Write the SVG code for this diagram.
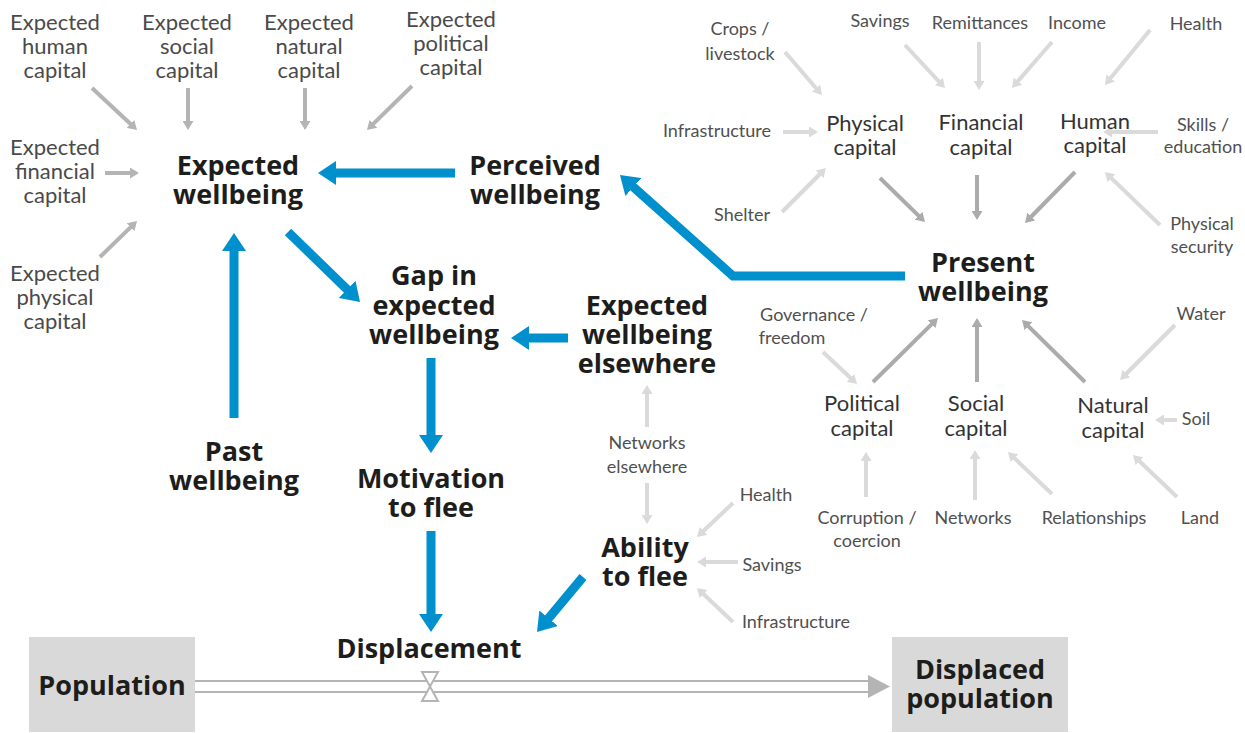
<svg xmlns="http://www.w3.org/2000/svg" width="1245" height="733" viewBox="0 0 1245 733">
<style>
.b{font-family:"Open Sans","Noto Sans",sans-serif;font-weight:bold;font-size:27px;fill:#1d1d1b;text-anchor:middle}
.l{font-family:Lato,"Open Sans",sans-serif;font-size:22px;fill:#4a4a4a;text-anchor:middle}
.r{font-family:Lato,"Open Sans",sans-serif;font-size:18px;fill:#505050;text-anchor:middle}
.c{font-family:Lato,"Open Sans",sans-serif;font-size:22px;fill:#333;text-anchor:middle}
.bl{fill:none;stroke:#0090cd;stroke-width:9;marker-end:url(#hb)}
.g1{fill:none;stroke:#b4b4b4;stroke-width:4;marker-end:url(#h1)}
.g2{fill:none;stroke:#dadada;stroke-width:4;marker-end:url(#h2)}
.g3{fill:none;stroke:#ababab;stroke-width:4;marker-end:url(#h3)}
.box{fill:#d9d9d9}
</style>
<defs>
<marker id="hb" markerUnits="userSpaceOnUse" markerWidth="18" markerHeight="24" refX="4" refY="12" orient="auto"><path d="M0,0 L18,12 L0,24 Z" fill="#0090cd"/></marker>
<marker id="h1" markerUnits="userSpaceOnUse" markerWidth="9" markerHeight="11" refX="2" refY="5.5" orient="auto"><path d="M0,0 L9,5.5 L0,11 Z" fill="#b4b4b4"/></marker>
<marker id="h2" markerUnits="userSpaceOnUse" markerWidth="9" markerHeight="11" refX="2" refY="5.5" orient="auto"><path d="M0,0 L9,5.5 L0,11 Z" fill="#dadada"/></marker>
<marker id="h3" markerUnits="userSpaceOnUse" markerWidth="9" markerHeight="11" refX="2" refY="5.5" orient="auto"><path d="M0,0 L9,5.5 L0,11 Z" fill="#ababab"/></marker>
</defs>

<g id="connectors">
<line class="g1" x1="92" y1="88" x2="131.9" y2="125.2"/>
<line class="g1" x1="188" y1="88" x2="188" y2="123"/>
<line class="g1" x1="305" y1="88" x2="305" y2="123"/>
<line class="g1" x1="412" y1="86" x2="372" y2="125.1"/>
<line class="g1" x1="105" y1="173" x2="132" y2="173"/>
<line class="g1" x1="100" y1="257" x2="132" y2="225.9"/>

<line class="g2" x1="785" y1="52" x2="817.4" y2="89.7"/>
<line class="g2" x1="905" y1="45" x2="940.2" y2="82.9"/>
<line class="g2" x1="979" y1="42" x2="979" y2="83"/>
<line class="g2" x1="1052" y1="42" x2="1016.6" y2="82.7"/>
<line class="g2" x1="1150" y1="30" x2="1109.4" y2="79.6"/>
<line class="g2" x1="783" y1="132" x2="811" y2="132"/>
<line class="g2" x1="782" y1="212" x2="821" y2="173"/>
<line class="g2" x1="1158" y1="132" x2="1110" y2="132"/>
<line class="g2" x1="1160" y1="225" x2="1110" y2="176.9"/>

<line class="g3" x1="880" y1="178" x2="920" y2="217.1"/>
<line class="g3" x1="977" y1="175" x2="977" y2="213"/>
<line class="g3" x1="1075" y1="172" x2="1029.9" y2="218"/>
<line class="g3" x1="873" y1="382" x2="933" y2="322.9"/>
<line class="g3" x1="977" y1="382" x2="977" y2="325"/>
<line class="g3" x1="1085" y1="382" x2="1027" y2="324.9"/>

<line class="g2" x1="823" y1="352" x2="851.9" y2="379.2"/>
<line class="g2" x1="1175" y1="325" x2="1125" y2="375"/>
<line class="g2" x1="1177" y1="420" x2="1162" y2="420"/>
<line class="g2" x1="866" y1="497" x2="866" y2="459"/>
<line class="g2" x1="975" y1="500" x2="975" y2="457"/>
<line class="g2" x1="1052" y1="494" x2="1013" y2="456.8"/>
<line class="g2" x1="1177" y1="497" x2="1138" y2="459.8"/>
<line class="g2" x1="647" y1="427" x2="647" y2="392"/>
<line class="g2" x1="647" y1="483" x2="647" y2="517"/>
<line class="g2" x1="733" y1="503" x2="702.1" y2="532.2"/>
<line class="g2" x1="738" y1="562" x2="704" y2="562"/>
<line class="g2" x1="733" y1="622" x2="702.1" y2="592.8"/>

<line class="bl" x1="455" y1="173" x2="332" y2="173"/>
<polyline class="bl" points="905,276 733,276 630.4,184.3"/>
<line class="bl" x1="288" y1="232" x2="350" y2="292.2"/>
<line class="bl" x1="568" y1="338" x2="525" y2="338"/>
<line class="bl" x1="234" y1="418" x2="234" y2="247"/>
<line class="bl" x1="431" y1="358" x2="431" y2="439"/>
<line class="bl" x1="431" y1="531" x2="431" y2="618"/>
<line class="bl" x1="583" y1="577" x2="546" y2="621.3"/>

<g id="flow">
<path d="M868,681 L193,681 L193,692 L868,692" fill="#fff" stroke="#b4b4b4" stroke-width="2"/>
<path d="M868,675 L890,686.5 L868,698 Z" fill="#b4b4b4"/>
<path d="M422,672 L438,672 L430,686.5 Z M422,701 L438,701 L430,686.5 Z" fill="#fff" stroke="#b4b4b4" stroke-width="2"/>
</g>
</g>

<g id="n-exp-human"><text class="l" x="55" y="30">Expected</text><text class="l" x="55" y="54">human</text><text class="l" x="55" y="78">capital</text></g>
<g id="n-exp-social"><text class="l" x="187" y="30">Expected</text><text class="l" x="187" y="54">social</text><text class="l" x="187" y="78">capital</text></g>
<g id="n-exp-natural"><text class="l" x="309" y="30">Expected</text><text class="l" x="309" y="54">natural</text><text class="l" x="309" y="78">capital</text></g>
<g id="n-exp-political"><text class="l" x="451" y="27">Expected</text><text class="l" x="451" y="51">political</text><text class="l" x="451" y="75">capital</text></g>
<g id="n-exp-financial"><text class="l" x="55" y="155">Expected</text><text class="l" x="55" y="179">financial</text><text class="l" x="55" y="203">capital</text></g>
<g id="n-exp-physical"><text class="l" x="55" y="281">Expected</text><text class="l" x="55" y="305">physical</text><text class="l" x="55" y="329">capital</text></g>

<g id="n-expected"><text class="b" x="238" y="175">Expected</text><text class="b" x="238" y="204">wellbeing</text></g>
<g id="n-perceived"><text class="b" x="535" y="175">Perceived</text><text class="b" x="535" y="204">wellbeing</text></g>
<g id="n-present"><text class="b" x="983" y="272">Present</text><text class="b" x="983" y="301">wellbeing</text></g>
<g id="n-gap"><text class="b" x="434" y="285">Gap in</text><text class="b" x="434" y="315">expected</text><text class="b" x="434" y="344">wellbeing</text></g>
<g id="n-elsewhere"><text class="b" x="647" y="315">Expected</text><text class="b" x="647" y="344">wellbeing</text><text class="b" x="647" y="373">elsewhere</text></g>
<g id="n-past"><text class="b" x="234" y="461">Past</text><text class="b" x="234" y="490">wellbeing</text></g>
<g id="n-motivation"><text class="b" x="431" y="488">Motivation</text><text class="b" x="431" y="517">to flee</text></g>
<g id="n-ability"><text class="b" x="645" y="557">Ability</text><text class="b" x="645" y="586">to flee</text></g>
<g id="n-displacement"><text class="b" x="429" y="658">Displacement</text></g>
<g id="n-population"><rect class="box" x="29" y="637" width="166" height="95"/><text class="b" x="112" y="695">Population</text></g>
<g id="n-displaced"><rect class="box" x="892" y="637" width="176" height="95"/><text class="b" x="980" y="679">Displaced</text><text class="b" x="980" y="708">population</text></g>

<g id="n-networks-elsewhere"><text class="r" x="647" y="449">Networks</text><text class="r" x="647" y="473">elsewhere</text></g>
<g id="n-af-health"><text class="r" x="766" y="501">Health</text></g>
<g id="n-af-savings"><text class="r" x="772" y="571">Savings</text></g>
<g id="n-af-infra"><text class="r" x="796" y="628">Infrastructure</text></g>

<g id="n-crops"><text class="r" x="740" y="35">Crops /</text><text class="r" x="740" y="60">livestock</text></g>
<g id="n-savings"><text class="r" x="880" y="27">Savings</text></g>
<g id="n-remittances"><text class="r" x="980" y="29">Remittances</text></g>
<g id="n-income"><text class="r" x="1077" y="29">Income</text></g>
<g id="n-health"><text class="r" x="1196" y="30">Health</text></g>
<g id="n-infra"><text class="r" x="717" y="137">Infrastructure</text></g>
<g id="n-shelter"><text class="r" x="742" y="221">Shelter</text></g>
<g id="n-skills"><text class="r" x="1203" y="131">Skills /</text><text class="r" x="1203" y="153">education</text></g>
<g id="n-security"><text class="r" x="1202" y="230">Physical</text><text class="r" x="1202" y="253">security</text></g>
<g id="n-physical"><text class="c" x="865" y="131">Physical</text><text class="c" x="865" y="155">capital</text></g>
<g id="n-financial"><text class="c" x="981" y="130">Financial</text><text class="c" x="981" y="155">capital</text></g>
<g id="n-human"><text class="c" x="1095" y="129">Human</text><text class="c" x="1095" y="153">capital</text></g>
<g id="n-political"><text class="c" x="862" y="411">Political</text><text class="c" x="862" y="436">capital</text></g>
<g id="n-social"><text class="c" x="976" y="411">Social</text><text class="c" x="976" y="436">capital</text></g>
<g id="n-natural"><text class="c" x="1113" y="413">Natural</text><text class="c" x="1113" y="438">capital</text></g>
<g id="n-governance"><text class="r" x="814" y="321">Governance /</text><text class="r" x="792" y="344">freedom</text></g>
<g id="n-water"><text class="r" x="1201" y="320">Water</text></g>
<g id="n-soil"><text class="r" x="1196" y="425">Soil</text></g>
<g id="n-corruption"><text class="r" x="867" y="524">Corruption /</text><text class="r" x="867" y="547">coercion</text></g>
<g id="n-networks"><text class="r" x="973" y="524">Networks</text></g>
<g id="n-relationships"><text class="r" x="1094" y="524">Relationships</text></g>
<g id="n-land"><text class="r" x="1200" y="524">Land</text></g>
</svg>
